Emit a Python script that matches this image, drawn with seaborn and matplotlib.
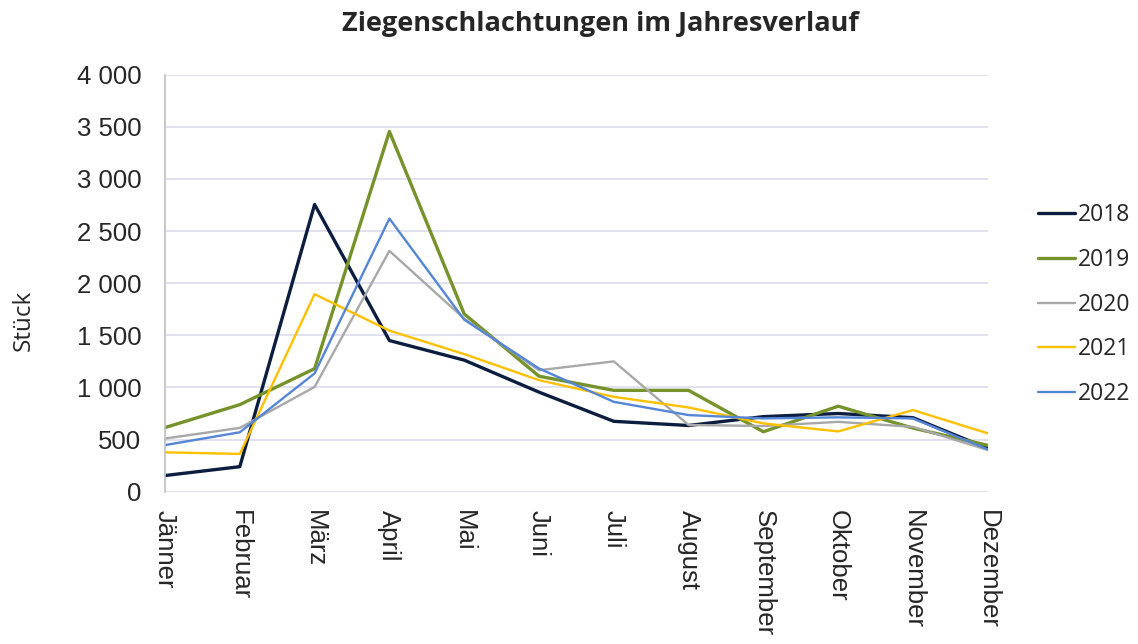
import seaborn as sns
import matplotlib.pyplot as plt
import pandas as pd
from matplotlib.ticker import FuncFormatter
from matplotlib.lines import Line2D

monate = ["Jänner", "Februar", "März", "April", "Mai", "Juni", "Juli",
          "August", "September", "Oktober", "November", "Dezember"]
jahre = ["2018", "2019", "2020", "2021", "2022"]

w2018 = [155, 240, 2755, 1450, 1262, 955, 675, 635, 720, 750, 710, 415]
w2019 = [615, 835, 1180, 3455, 1705, 1108, 972, 972, 575, 820, 610, 445]
w2020 = [510, 612, 1005, 2310, 1660, 1165, 1250, 640, 630, 670, 622, 400]
w2021 = [378, 362, 1895, 1545, 1320, 1070, 910, 808, 655, 578, 783, 560]
w2022 = [447, 570, 1135, 2620, 1650, 1182, 862, 735, 703, 713, 703, 406]

farben = {"2018": "#0c1d3f", "2019": "#76922b", "2020": "#a8a8a8",
          "2021": "#ffc000", "2022": "#5585d6"}
breiten = {"2018": 2.4, "2019": 2.4, "2020": 1.7, "2021": 1.7, "2022": 1.7}

werte = [w2018, w2019, w2020, w2021, w2022]
df = pd.concat([pd.DataFrame({"Monat": monate, "idx": range(12), "Stück": w, "Jahr": j})
                for j, w in zip(jahre, werte)])

sns.set_style("white")
plt.rcParams["font.family"] = ["Liberation Sans", "DejaVu Sans"]

fig = plt.figure(figsize=(11.38, 6.44), dpi=100)
ax = fig.add_axes([0.145, 0.2365, 0.723, 0.6475])

for j in jahre:
    sns.lineplot(data=df[df["Jahr"] == j], x="idx", y="Stück", color=farben[j],
                 linewidth=breiten[j], ax=ax, legend=False)

ax.set_xlim(0, 11)
ax.set_ylim(0, 4000)
ax.set_yticks(range(0, 4001, 500))
ax.yaxis.set_major_formatter(FuncFormatter(lambda v, p: f"{v:,.0f}".replace(",", " ")))
ax.set_xticks(range(12))
ax.set_xticklabels(monate, rotation=270, fontsize=18.5, va="top", ha="center", color="#262626")
ax.tick_params(axis="y", labelsize=18.5, length=0, pad=17, labelcolor="#262626")
ax.tick_params(axis="x", length=0, pad=13)
ax.grid(axis="y", color="#dcdcee", linewidth=1.2)
ax.set_axisbelow(True)
for s in ["top", "right", "bottom"]:
    ax.spines[s].set_visible(False)
ax.spines["left"].set_color("#bfbfbf")
ax.spines["left"].set_linewidth(1.2)

ax.set_xlabel("")
ax.set_ylabel("")
fig.text(0.021, 0.503, "Stück", rotation=90, ha="center", va="center", fontsize=17.5,
         family=["Open Sans", "DejaVu Sans"], color="#262626")

fig.text(0.528, 0.962, "Ziegenschlachtungen im Jahresverlauf", ha="center", va="center",
         fontsize=19.5, fontweight="bold", family=["Open Sans", "DejaVu Sans"])

handles = [Line2D([0], [0], color=farben[j], linewidth=breiten[j]) for j in jahre]
fig.legend(handles, jahre, loc="center left", bbox_to_anchor=(0.912, 0.527), frameon=False,
           prop={"family": ["Open Sans", "DejaVu Sans"], "size": 16.5},
           handlelength=1.6, handletextpad=0.15, labelspacing=0.9,
           borderpad=0, borderaxespad=0)

fig.savefig("out.png", dpi=100)
